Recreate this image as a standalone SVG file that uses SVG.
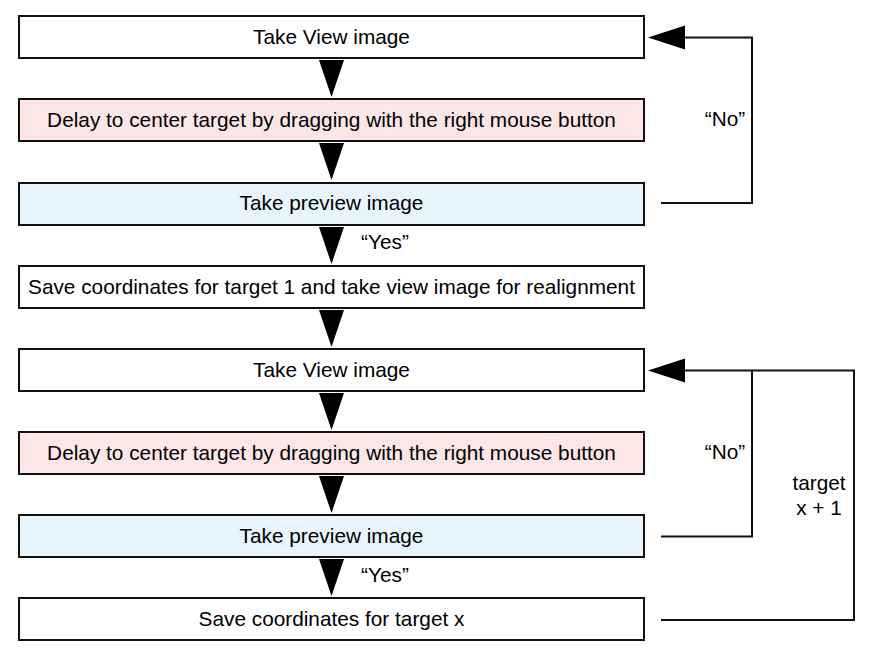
<svg xmlns="http://www.w3.org/2000/svg" width="874" height="658" viewBox="0 0 874 658">
<defs>
<style>
.box{stroke:#111;stroke-width:2;}
.w{fill:#fff;}
.p{fill:#fde6e8;}
.b{fill:#e9f5fd;}
text{font-family:"Liberation Sans",Arial,sans-serif;font-size:20.8px;fill:#000;text-anchor:middle;}
.ln{fill:none;stroke:#111;stroke-width:2;}
.ah{fill:#000;}
</style>
</defs>
<rect width="874" height="658" fill="#fff"/>
<g id="n1"><rect class="box w" x="19" y="16" width="625" height="42"/><text x="331.5" y="43.5">Take View image</text></g>
<g id="n2"><rect class="box p" x="19" y="99" width="625" height="42"/><text x="331.5" y="126.5">Delay to center target by dragging with the right mouse button</text></g>
<g id="n3"><rect class="box b" x="19" y="183" width="625" height="42"/><text x="331.5" y="210">Take preview image</text></g>
<g id="n4"><rect class="box w" x="19" y="266" width="625" height="42"/><text x="331.5" y="293.5">Save coordinates for target 1 and take view image for realignment</text></g>
<g id="n5"><rect class="box w" x="19" y="349" width="625" height="42"/><text x="331.5" y="376.5">Take View image</text></g>
<g id="n6"><rect class="box p" x="19" y="432" width="625" height="42"/><text x="331.5" y="459.5">Delay to center target by dragging with the right mouse button</text></g>
<g id="n7"><rect class="box b" x="19" y="515" width="625" height="42"/><text x="331.5" y="542.5">Take preview image</text></g>
<g id="n8"><rect class="box w" x="19" y="598" width="625" height="42"/><text x="331.5" y="625.5">Save coordinates for target x</text></g>
<g id="connectors">
<polygon class="ah" points="319,60 344,60 331.5,97"/>
<polygon class="ah" points="319,143 344,143 331.5,180"/>
<polygon class="ah" points="319,227 344,227 331.5,264"/>
<polygon class="ah" points="319,310 344,310 331.5,347"/>
<polygon class="ah" points="319,393 344,393 331.5,430"/>
<polygon class="ah" points="319,476 344,476 331.5,513"/>
<polygon class="ah" points="319,559 344,559 331.5,596"/>
<polyline class="ln" points="661,203 752,203 752,37.5 684,37.5"/>
<polygon class="ah" points="648,37.5 685,25.5 685,49.5"/>
<polyline class="ln" points="661,536.5 752,536.5 752,370.5 684,370.5"/>
<polyline class="ln" points="661,620 854,620 854,370.5 752,370.5"/>
<polygon class="ah" points="648,370.5 685,358.5 685,382.5"/>
<text x="725" y="126">“No”</text>
<text x="725" y="459">“No”</text>
<text x="385" y="249">“Yes”</text>
<text x="385" y="582">“Yes”</text>
<text x="819" y="490">target</text>
<text x="819" y="515">x + 1</text>
</g>
</svg>
